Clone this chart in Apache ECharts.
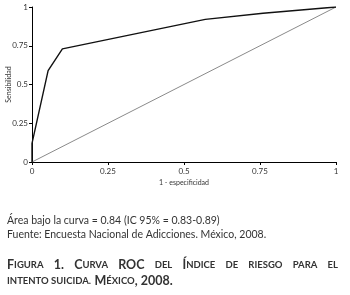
<!DOCTYPE html>
<html>
<head>
<meta charset="utf-8">
<script src="https://cdn.jsdelivr.net/npm/echarts@6/dist/echarts.min.js"></script>
<style>
  html, body { margin: 0; padding: 0; background: #fff; }
  #chart { width: 350px; height: 295px; }
</style>
</head>
<body>
<div id="chart"></div>
<script>
// curva ROC (1 - especificidad, sensibilidad)
const rocX = [0, 0, 0.053, 0.1, 0.57, 0.76, 1];
const rocY = [0, 0.12, 0.59, 0.73, 0.92, 0.96, 1];
// linea de referencia
const refX = [0, 1];
const refY = [0, 1];
const tickValues = [0, 0.25, 0.5, 0.75, 1];
const tickLabels = ["0", "0.25", "0.5", "0.75", "1"];

const xName = "1 - especificidad";
const yName = "Sensibilidad";
const note1 = "Área bajo la curva = 0.84 (IC 95% = 0.83-0.89)";
const note2 = "Fuente: Encuesta Nacional de Adicciones. México, 2008.";
// titulo en versalitas: [estilo, texto] por palabra
const titleLine1 = [
  [["b", "F"], ["s", "IGURA"]],
  [["b", "1."]],
  [["b", "C"], ["s", "URVA"]],
  [["b", "ROC"]],
  [["s", "DEL"]],
  [["b", "Í"], ["s", "NDICE"]],
  [["s", "DE"]],
  [["s", "RIESGO"]],
  [["s", "PARA"]],
  [["s", "EL"]],
];
const titleLine2 = "{s|INTENTO SUICIDA.} {b|M}{s|ÉXICO}{b|, 2008.}";

const font = "Lato, 'Open Sans', sans-serif";
const ink = "#333";
const bigSize = 12.5;
const smallSize = 9.5;

// ancho del texto para justificar la primera linea del titulo
const ctx = document.createElement("canvas").getContext("2d");
const measure = (size, txt) => {
  ctx.font = "bold " + size + "px " + font;
  return ctx.measureText(txt).width;
};
let wordsWidth = 0;
titleLine1.forEach((w) =>
  w.forEach(([k, t]) => (wordsWidth += measure(k === "b" ? bigSize : smallSize, t)))
);
const gapWidth = (331 - wordsWidth) / (titleLine1.length - 1);
const titleText1 = titleLine1
  .map((w) => w.map(([k, t]) => `{${k}|${t}}`).join(""))
  .join("{g| }");

const chart = echarts.init(document.getElementById("chart"), null, { renderer: "canvas" });

const label = (v) => {
  const i = tickValues.indexOf(v);
  return i >= 0 ? tickLabels[i] : "";
};

const axisBase = {
  type: "value",
  min: 0,
  max: 1,
  interval: 0.25,
  axisLine: { show: true, onZero: false, lineStyle: { color: "#000", width: 1 } },
  axisTick: { show: true, length: 3, lineStyle: { color: "#000" } },
  splitLine: { show: false },
  axisLabel: { fontSize: 8, color: ink, fontFamily: font, formatter: label },
  nameTextStyle: { fontSize: 7, color: ink, fontFamily: font },
  nameMoveOverlap: false,
};

const richTitle = {
  b: { fontSize: bigSize, fontWeight: "bold", fontFamily: font, fill: ink, lineHeight: 18 },
  s: { fontSize: smallSize, fontWeight: "bold", fontFamily: font, fill: ink, lineHeight: 18 },
  g: { width: gapWidth, fontSize: smallSize, lineHeight: 18 },
};

chart.setOption({
  animation: false,
  grid: { left: 32, right: 14, top: 7, bottom: 133, outerBoundsMode: "none", containLabel: false },
  xAxis: Object.assign({}, axisBase, {
    name: xName,
    nameLocation: "middle",
    nameGap: 17,
    axisLabel: Object.assign({}, axisBase.axisLabel, { margin: 5 }),
  }),
  yAxis: Object.assign({}, axisBase, {
    name: yName,
    nameLocation: "middle",
    nameGap: 20,
    axisLabel: Object.assign({}, axisBase.axisLabel, { margin: 4 }),
  }),
  series: [
    {
      type: "line",
      data: refX.map((x, i) => [x, refY[i]]),
      symbol: "none",
      lineStyle: { color: "#8a8a8a", width: 1 },
      z: 1,
    },
    {
      type: "line",
      data: rocX.map((x, i) => [x, rocY[i]]),
      symbol: "none",
      lineStyle: { color: "#111", width: 1.4 },
      z: 2,
    },
  ],
  graphic: [
    {
      type: "text", left: 7, top: 215,
      style: { text: note1, font: "10.5px " + font, fill: ink },
    },
    {
      type: "text", left: 7, top: 229,
      style: { text: note2, font: "10.5px " + font, fill: ink },
    },
    {
      type: "text", left: 7, top: 258,
      style: { text: titleText1, fill: ink, rich: richTitle },
    },
    {
      type: "text", left: 7, top: 274,
      style: { text: titleLine2, fill: ink, rich: richTitle },
    },
  ],
});
</script>
</body>
</html>
